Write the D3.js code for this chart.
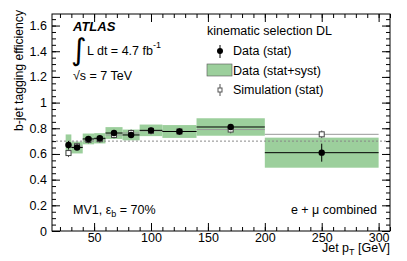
<!DOCTYPE html>
<html>
<head>
<meta charset="utf-8">
<script src="https://cdn.jsdelivr.net/npm/d3@7.9.0/dist/d3.min.js"></script>
<style>
  body { margin: 0; background: #fff; }
  svg text { font-family: "Liberation Sans", Arial, sans-serif; fill: #000; }
</style>
</head>
<body>
<svg id="chart" width="407" height="261"></svg>
<script>
// bin edges in jet pT [GeV]
const binLo = [25, 30, 40, 50, 60, 75, 90, 110, 140, 200];
const binHi = [30, 40, 50, 60, 75, 90, 110, 140, 200, 300];
// data efficiency with stat and total (stat+syst) uncertainty
const dataEff = [0.67, 0.65, 0.717, 0.722, 0.763, 0.748, 0.784, 0.775, 0.81, 0.61];
const dataStat = [0.03, 0.018, 0.015, 0.014, 0.014, 0.014, 0.014, 0.014, 0.022, 0.07];
const dataTot = [0.082, 0.046, 0.042, 0.04, 0.046, 0.042, 0.045, 0.05, 0.068, 0.117];
// simulation efficiency
const simEff = [0.607, 0.66, 0.709, 0.715, 0.748, 0.763, 0.78, 0.775, 0.79, 0.753];
const simStat = [0.008, 0.005, 0.004, 0.004, 0.004, 0.004, 0.004, 0.004, 0.006, 0.006];
const refLine = 0.7;

const xMajor = [50, 100, 150, 200, 250, 300];
const xMinor = d3.range(20, 311, 10);
const yMajor = [0, 0.2, 0.4, 0.6, 0.8, 1, 1.2, 1.4, 1.6];
const yMinor = d3.range(0, 34).map(i => i * 0.05);

const width = 407, height = 261;
const margin = { top: 14, right: 17, bottom: 30, left: 52 };

const svg = d3.select('#chart');
const x = d3.scaleLinear().domain([13, 310]).range([margin.left, width - margin.right]);
const y = d3.scaleLinear().domain([0, 1.69]).range([height - margin.bottom, margin.top]);

const bins = binLo.map((lo, i) => ({
  lo, hi: binHi[i], mid: (lo + binHi[i]) / 2,
  eff: dataEff[i], stat: dataStat[i], tot: dataTot[i],
  sim: simEff[i], simErr: simStat[i]
}));

const green = '#9ccf9c';

// total uncertainty boxes
svg.append('g').selectAll('rect').data(bins).join('rect')
  .attr('x', d => x(d.lo))
  .attr('width', d => x(d.hi) - x(d.lo))
  .attr('y', d => y(d.eff + d.tot))
  .attr('height', d => y(d.eff - d.tot) - y(d.eff + d.tot))
  .attr('fill', green);

// reference line
svg.append('line')
  .attr('x1', x.range()[0]).attr('x2', x.range()[1])
  .attr('y1', y(refLine)).attr('y2', y(refLine))
  .attr('stroke', '#888').attr('stroke-dasharray', '2,2');

// simulation
const sim = svg.append('g');
sim.selectAll('line.h').data(bins).join('line')
  .attr('x1', d => x(d.lo)).attr('x2', d => x(d.hi))
  .attr('y1', d => y(d.sim)).attr('y2', d => y(d.sim))
  .attr('stroke', '#999');
sim.selectAll('line.v').data(bins).join('line')
  .attr('x1', d => x(d.mid)).attr('x2', d => x(d.mid))
  .attr('y1', d => y(d.sim - d.simErr) + 3).attr('y2', d => y(d.sim + d.simErr) - 3)
  .attr('stroke', '#555');
sim.selectAll('rect').data(bins).join('rect')
  .attr('x', d => x(d.mid) - 2.5).attr('y', d => y(d.sim) - 2.5)
  .attr('width', 5).attr('height', 5)
  .attr('fill', '#fff').attr('stroke', '#444');

// data
const dat = svg.append('g');
dat.selectAll('line.h').data(bins).join('line')
  .attr('x1', d => x(d.lo)).attr('x2', d => x(d.hi))
  .attr('y1', d => y(d.eff)).attr('y2', d => y(d.eff))
  .attr('stroke', '#000');
dat.selectAll('line.v').data(bins).join('line')
  .attr('x1', d => x(d.mid)).attr('x2', d => x(d.mid))
  .attr('y1', d => y(d.eff - d.stat)).attr('y2', d => y(d.eff + d.stat))
  .attr('stroke', '#000');
dat.selectAll('circle').data(bins).join('circle')
  .attr('cx', d => x(d.mid)).attr('cy', d => y(d.eff)).attr('r', 3.2)
  .attr('fill', '#000');

// axes, ROOT style ticks inside the frame
const bottom = height - margin.bottom, right = width - margin.right;
function styleAxis(g) {
  g.select('.domain').remove();
  g.selectAll('.tick line').attr('stroke', '#000');
  g.selectAll('.tick text').style('font-size', '12.5px').attr('fill', '#000');
}
svg.append('g').attr('transform', `translate(0,${bottom})`)
  .call(d3.axisBottom(x).tickValues(xMajor).tickSize(-8).tickPadding(2)).call(styleAxis);
svg.append('g').attr('transform', `translate(0,${bottom})`)
  .call(d3.axisBottom(x).tickValues(xMinor).tickSize(-4).tickFormat('')).call(styleAxis);
svg.append('g').attr('transform', `translate(0,${margin.top})`)
  .call(d3.axisTop(x).tickValues(xMajor).tickSize(-8).tickFormat('')).call(styleAxis);
svg.append('g').attr('transform', `translate(0,${margin.top})`)
  .call(d3.axisTop(x).tickValues(xMinor).tickSize(-4).tickFormat('')).call(styleAxis);
svg.append('g').attr('transform', `translate(${margin.left},0)`)
  .call(d3.axisLeft(y).tickValues(yMajor).tickSize(-8).tickPadding(5).tickFormat(d3.format('~g'))).call(styleAxis);
svg.append('g').attr('transform', `translate(${margin.left},0)`)
  .call(d3.axisLeft(y).tickValues(yMinor).tickSize(-4).tickFormat('')).call(styleAxis);
svg.append('g').attr('transform', `translate(${right},0)`)
  .call(d3.axisRight(y).tickValues(yMajor).tickSize(-8).tickFormat('')).call(styleAxis);
svg.append('g').attr('transform', `translate(${right},0)`)
  .call(d3.axisRight(y).tickValues(yMinor).tickSize(-4).tickFormat('')).call(styleAxis);

svg.append('rect')
  .attr('x', margin.left).attr('y', margin.top)
  .attr('width', right - margin.left).attr('height', bottom - margin.top)
  .attr('fill', 'none').attr('stroke', '#000');

// axis titles
svg.append('text')
  .attr('transform', `translate(23,10) rotate(-90)`)
  .attr('text-anchor', 'end').style('font-size', '12.2px')
  .text('b-jet tagging efficiency');
const xt = svg.append('text').attr('x', right).attr('y', 252)
  .attr('text-anchor', 'end').style('font-size', '12.5px');
xt.append('tspan').text('Jet p');
xt.append('tspan').attr('dy', 3).style('font-size', '9px').text('T');
xt.append('tspan').attr('dy', -3).text(' [GeV]');

// labels
svg.append('text').attr('x', 73).attr('y', 31)
  .style('font-size', '13px').style('font-weight', 'bold').style('font-style', 'italic')
  .text('ATLAS');
svg.append('text').attr('x', 71).attr('y', 60)
  .style('font-size', '30px').style('font-family', 'DejaVu Sans').text('∫');
const lumi = svg.append('text').attr('x', 87).attr('y', 55).style('font-size', '12.5px');
lumi.append('tspan').text('L dt = 4.7 fb');
lumi.append('tspan').attr('dy', -7).style('font-size', '9px').text('-1');
svg.append('text').attr('x', 73).attr('y', 80).style('font-size', '12.5px').text('√s = 7 TeV');

const mv = svg.append('text').attr('x', 73).attr('y', 214).style('font-size', '12.5px');
mv.append('tspan').text('MV1, ε');
mv.append('tspan').attr('dy', 3).style('font-size', '9px').text('b');
mv.append('tspan').attr('dy', -3).text(' = 70%');
svg.append('text').attr('x', 377).attr('y', 214).attr('text-anchor', 'end')
  .style('font-size', '12.5px').text('e + μ combined');

// legend
svg.append('text').attr('x', 207).attr('y', 35).style('font-size', '12.5px')
  .text('kinematic selection DL');
const leg = svg.append('g');
leg.append('line').attr('x1', 220).attr('x2', 220).attr('y1', 45).attr('y2', 58).attr('stroke', '#000');
leg.append('circle').attr('cx', 220).attr('cy', 51).attr('r', 3).attr('fill', '#000');
leg.append('text').attr('x', 233).attr('y', 55).style('font-size', '12.5px').text('Data (stat)');
leg.append('rect').attr('x', 207).attr('y', 64).attr('width', 25).attr('height', 12)
  .attr('fill', green).attr('stroke', '#555').attr('stroke-width', 0.6);
leg.append('text').attr('x', 233).attr('y', 75).style('font-size', '12.5px').text('Data (stat+syst)');
leg.append('line').attr('x1', 220).attr('x2', 220).attr('y1', 84).attr('y2', 96).attr('stroke', '#555');
leg.append('rect').attr('x', 218).attr('y', 88).attr('width', 4).attr('height', 4)
  .attr('fill', '#fff').attr('stroke', '#555');
leg.append('text').attr('x', 233).attr('y', 94).style('font-size', '12.5px').text('Simulation (stat)');
</script>
</body>
</html>
